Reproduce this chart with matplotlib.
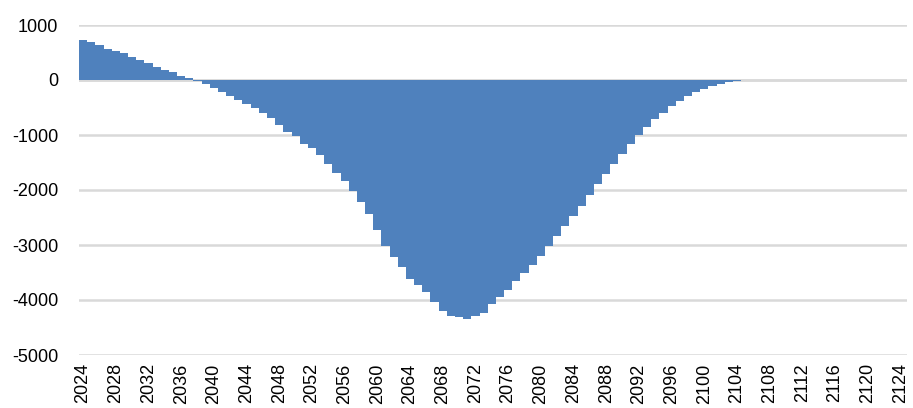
import matplotlib
matplotlib.use("Agg")
import matplotlib.pyplot as plt
from matplotlib import font_manager

years = list(range(2024, 2125))
values = [
    727, 697, 636, 570, 521, 485, 424, 364, 303, 242,
    182, 139, 79, 30, -10, -75, -152, -212, -285, -364,
    -436, -515, -594, -697, -818, -939, -1012, -1164, -1242, -1364,
    -1530, -1691, -1830, -2012, -2224, -2436, -2727, -3012, -3212, -3394,
    -3618, -3727, -3860, -4045, -4194, -4285, -4315, -4339, -4297, -4242,
    -4079, -3952, -3815, -3660, -3515, -3358, -3194, -3018, -2842, -2661,
    -2467, -2285, -2091, -1890, -1705, -1520, -1340, -1164, -1000, -848,
    -715, -594, -473, -382, -291, -224, -164, -109, -67, -42,
    -18, 0, 0, 0, 0, 0, 0, 0, 0, 0,
    0, 0, 0, 0, 0, 0, 0, 0, 0, 0,
    0,
]
y_ticks = [1000, 0, -1000, -2000, -3000, -4000, -5000]
x_tick_years = list(range(2024, 2125, 4))

names = {f.name for f in font_manager.fontManager.ttflist}
fams = [f for f in ["Liberation Sans Narrow", "DejaVu Sans Condensed", "Liberation Sans", "DejaVu Sans"] if f in names]
plt.rcParams['font.family'] = fams

fig = plt.figure(figsize=(9.13, 4.08), dpi=100)
ax = fig.add_axes([79/913, 1 - 355/408, 828/913, 330/408])

xs = list(range(len(years)))
ax.bar(xs, values, width=1.0, color="#4F81BD", edgecolor="none", zorder=2)

ax.set_xlim(-0.5, len(years) - 0.2)
ax.set_ylim(-5000, 1000)
ax.set_yticks(y_ticks)
ax.set_yticklabels([str(v) for v in y_ticks], fontsize=13)
ax.yaxis.grid(True, color="#D9D9D9", linewidth=1.8, zorder=0)
ax.set_axisbelow(True)
ax.axhline(0, color="#D9D9D9", linewidth=1.8, zorder=1)

ax.set_xticks([years.index(y) for y in x_tick_years])
ax.set_xticklabels([str(y) for y in x_tick_years], rotation=90, fontsize=13)
ax.tick_params(axis="both", length=0)
ax.tick_params(axis="y", pad=15)
ax.tick_params(axis="x", pad=6)
for s in ax.spines.values():
    s.set_visible(False)

fig.savefig("out.png", dpi=100)
